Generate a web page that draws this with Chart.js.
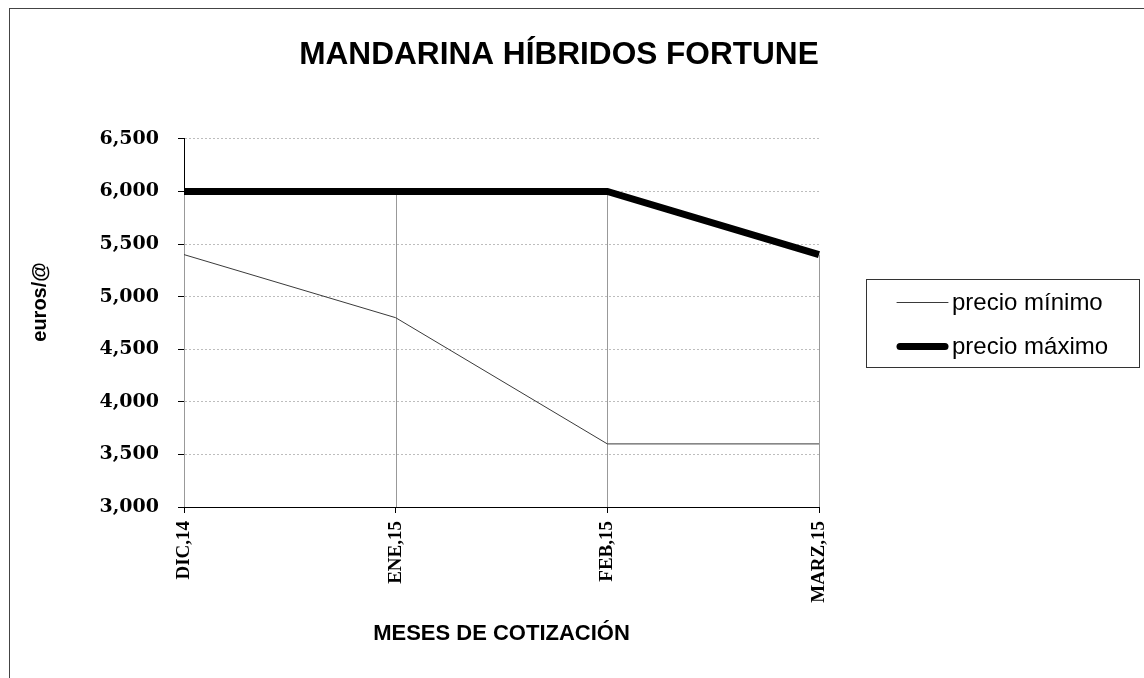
<!DOCTYPE html>
<html>
<head>
<meta charset="utf-8">
<script src="https://cdn.jsdelivr.net/npm/chart.js@4/dist/chart.umd.min.js"></script>
<style>
    html, body { margin: 0; padding: 0; background: #fff; }
    #wrap { position: relative; width: 1144px; height: 678px; overflow: hidden; }
    #frame { position: absolute; left: 9px; top: 8px; width: 1200px; height: 800px;
             border-left: 1px solid #444; border-top: 1px solid #444; pointer-events: none; }
    canvas { position: absolute; left: 0; top: 0; }
</style>
</head>
<body>
<div id="wrap">
    <canvas id="chart" width="1144" height="678"></canvas>
    <div id="frame"></div>
</div>
<script>
// Chart data
const months = ["DIC,14", "ENE,15", "FEB,15", "MARZ,15"];
const minPrices = [5400, 4800, 3600, 3600];
const maxPrices = [6000, 6000, 6000, 5400];
const yTicks = [3000, 3500, 4000, 4500, 5000, 5500, 6000, 6500];

const chartTitle = "MANDARINA HÍBRIDOS FORTUNE";
const yTitle = "euros/@";
const xTitle = "MESES DE COTIZACIÓN";

// Vertical drop lines from the max series down to the x axis
const dropLines = {
    id: "dropLines",
    beforeDatasetsDraw(chart) {
        const { ctx, scales: { x, y } } = chart;
        ctx.save();
        ctx.strokeStyle = "#999";
        ctx.lineWidth = 1;
        maxPrices.forEach((v, i) => {
            const px = Math.round(x.getPixelForValue(i)) + 0.5;
            ctx.beginPath();
            ctx.moveTo(px, y.getPixelForValue(v));
            ctx.lineTo(px, y.bottom);
            ctx.stroke();
        });
        ctx.restore();
    }
};

// y axis title, sitting a little above the middle like the original
const yAxisTitle = {
    id: "yAxisTitle",
    afterDraw(chart) {
        const { ctx, chartArea } = chart;
        ctx.save();
        ctx.translate(40, (chartArea.top + chartArea.bottom) / 2 - 21);
        ctx.rotate(-Math.PI / 2);
        ctx.font = "bold 20px 'Liberation Sans', Arial, sans-serif";
        ctx.fillStyle = "#000";
        ctx.textAlign = "center";
        ctx.textBaseline = "middle";
        ctx.fillText(yTitle, 0, 0);
        ctx.restore();
    }
};

// Boxed legend to the right of the plot
const boxLegend = {
    id: "boxLegend",
    afterDraw(chart) {
        const { ctx, chartArea } = chart;
        const w = 273, h = 88;
        const left = chartArea.right + 47;
        const top = Math.round((chartArea.top + chartArea.bottom) / 2 - h / 2) + 0.5;
        ctx.save();
        ctx.strokeStyle = "#333";
        ctx.lineWidth = 1;
        ctx.strokeRect(left + 0.5, top, w, h);
        ctx.font = "24px 'Liberation Sans', Arial, sans-serif";
        ctx.textBaseline = "middle";
        ctx.fillStyle = "#000";
        chart.data.datasets.forEach((ds, i) => {
            const yy = top + 23 + i * 44;
            ctx.beginPath();
            ctx.strokeStyle = ds.borderColor;
            ctx.lineWidth = ds.borderWidth;
            ctx.lineCap = "round";
            ctx.moveTo(left + 31 + (ds.borderWidth > 1 ? 3 : 0), yy);
            ctx.lineTo(left + 82 - (ds.borderWidth > 1 ? 3 : 0), yy);
            ctx.stroke();
            ctx.fillText(ds.label, left + 86, yy + 1);
        });
        ctx.restore();
    }
};

const ctx = document.getElementById("chart").getContext("2d");

new Chart(ctx, {
    type: "line",
    data: {
        labels: months,
        datasets: [
            {
                label: "precio mínimo",
                data: minPrices,
                borderColor: "#3a3a3a",
                borderWidth: 1,
                pointRadius: 0,
                fill: false,
                tension: 0,
            },
            {
                label: "precio máximo",
                data: maxPrices,
                borderColor: "#000",
                borderWidth: 7,
                borderCapStyle: "butt",
                pointRadius: 0,
                fill: false,
                tension: 0,
            },
        ],
    },
    options: {
        responsive: false,
        animation: false,
        layout: { padding: { top: 0, left: 0, right: 26, bottom: 0 } },
        plugins: {
            legend: { display: false },
            tooltip: { enabled: false },
            title: {
                display: true,
                text: chartTitle,
                color: "#000",
                font: { family: "'Liberation Sans', Arial, sans-serif", size: 31.6, weight: "bold", lineHeight: 1.2 },
                padding: { top: 36, bottom: 65 },
            },
        },
        scales: {
            x: {
                offset: false,
                afterFit(scale) { scale.height = 171; },
                grid: {
                    drawOnChartArea: false,
                    drawTicks: true,
                    tickLength: 6,
                    tickColor: "#000",
                },
                border: { display: true, color: "#000", width: 1 },
                ticks: {
                    color: "#000",
                    maxRotation: 90,
                    minRotation: 90,
                    padding: 8,
                    font: { family: "'Liberation Serif', 'Times New Roman', serif", size: 19, weight: "bold" },
                },
                title: {
                    display: true,
                    text: xTitle,
                    color: "#000",
                    font: { family: "'Liberation Sans', Arial, sans-serif", size: 22, weight: "bold", lineHeight: 1.2 },
                    padding: { top: 0, bottom: 31 },
                },
            },
            y: {
                min: 3000,
                max: 6500,
                afterFit(scale) { scale.width = 184; },
                afterBuildTicks(scale) { scale.ticks = yTicks.map(v => ({ value: v })); },
                grid: {
                    color: "#bdbdbd",
                    tickLength: 6,
                    tickColor: "#000",
                    tickBorderDash: [],
                },
                border: { display: true, color: "#000", width: 1, dash: [2, 2] },
                ticks: {
                    color: "#000",
                    padding: 19,
                    font: { family: "'DejaVu Serif', serif", size: 19, weight: "bold" },
                    callback: value => value.toLocaleString("en-US"),
                },
                title: { display: false },
            },
            // empty axis that keeps the space for the legend on the right
            y2: {
                position: "right",
                display: true,
                afterFit(scale) { scale.width = 299; },
                grid: { display: false, drawOnChartArea: false },
                border: { display: false },
                ticks: { display: false },
            },
        },
    },
    plugins: [dropLines, yAxisTitle, boxLegend],
});
</script>
</body>
</html>
